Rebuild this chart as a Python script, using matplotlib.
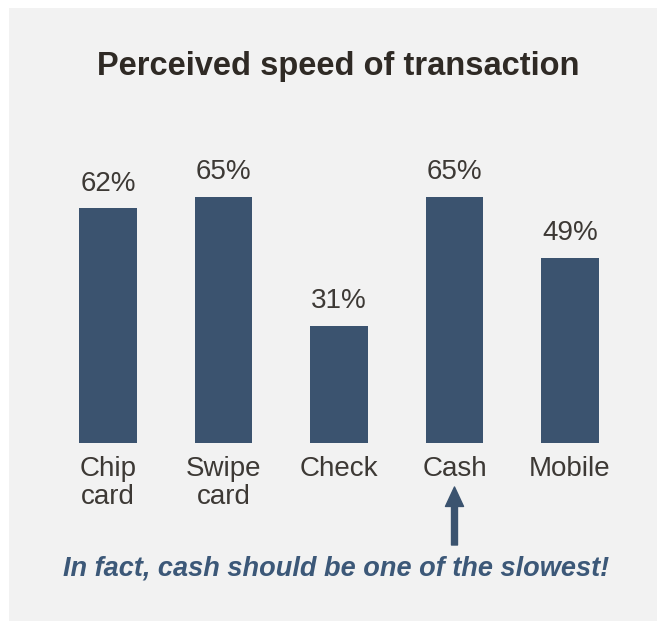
import matplotlib

matplotlib.use("Agg")
import matplotlib.pyplot as plt
from matplotlib.patches import Rectangle

categories = ["Chip\ncard", "Swipe\ncard", "Check", "Cash", "Mobile"]
values = [62, 65, 31, 65, 49]
value_labels = ["62%", "65%", "31%", "65%", "49%"]
title = "Perceived speed of transaction"
note = "In fact, cash should be one of the slowest!"
highlight = "Cash"

W, H = 657, 621
BG = "#f2f2f2"
BAR = "#3b536f"
TEXT = "#3d3935"
NOTE = "#3c5878"

plt.rcParams["font.family"] = ["Liberation Sans", "DejaVu Sans"]

fig = plt.figure(figsize=(W / 100, H / 100), dpi=100)
fig.patch.set_facecolor("white")
fig.patches.append(Rectangle((9 / W, 0), 1 - 9 / W, 1 - 8 / H, transform=fig.transFigure,
                             facecolor=BG, edgecolor="none", zorder=-10))

# axes box in pixel terms: x 50..628, y bottom 443 from top, 3.785 px per percent
ymax = 90
left, right, bottom = 50.25, 627.75, H - 443
ax = fig.add_axes([left / W, bottom / H, (right - left) / W, ymax * 3.785 / H])
ax.patch.set_visible(False)

x = range(len(categories))
bars = ax.bar(x, values, width=0.5, color=BAR)
ax.set_xlim(-0.5, len(categories) - 0.5)
ax.set_ylim(0, ymax)
for s in ax.spines.values():
    s.set_visible(False)
ax.set_yticks([])
ax.set_xticks(list(x))
ax.set_xticklabels(categories, fontsize=20, color=TEXT, linespacing=1.12)
ax.tick_params(axis="x", length=0, pad=9)

for b, lab in zip(bars, value_labels):
    ax.annotate(lab, (b.get_x() + b.get_width() / 2, b.get_height()), xytext=(0, 8.5),
                textcoords="offset points", ha="center", va="bottom", fontsize=20, color=TEXT)

fig.text(338.5 / W, 1 - 67 / H, title, ha="center", va="center", fontsize=23.5,
         fontweight="bold", color="#2f2a25")

hx = categories.index(highlight)
ax.annotate("", xy=(hx, H - 487), xytext=(hx, H - 545), xycoords=("data", "figure pixels"),
            textcoords=("data", "figure pixels"),
            arrowprops=dict(width=4.3, headwidth=13, headlength=14, color=BAR, shrink=0))

fig.text(336 / W, 1 - 569 / H, note, ha="center", va="center", fontsize=19.5,
         fontweight="bold", fontstyle="italic", color=NOTE)

fig.savefig("out.png", dpi=100, facecolor=fig.get_facecolor())
